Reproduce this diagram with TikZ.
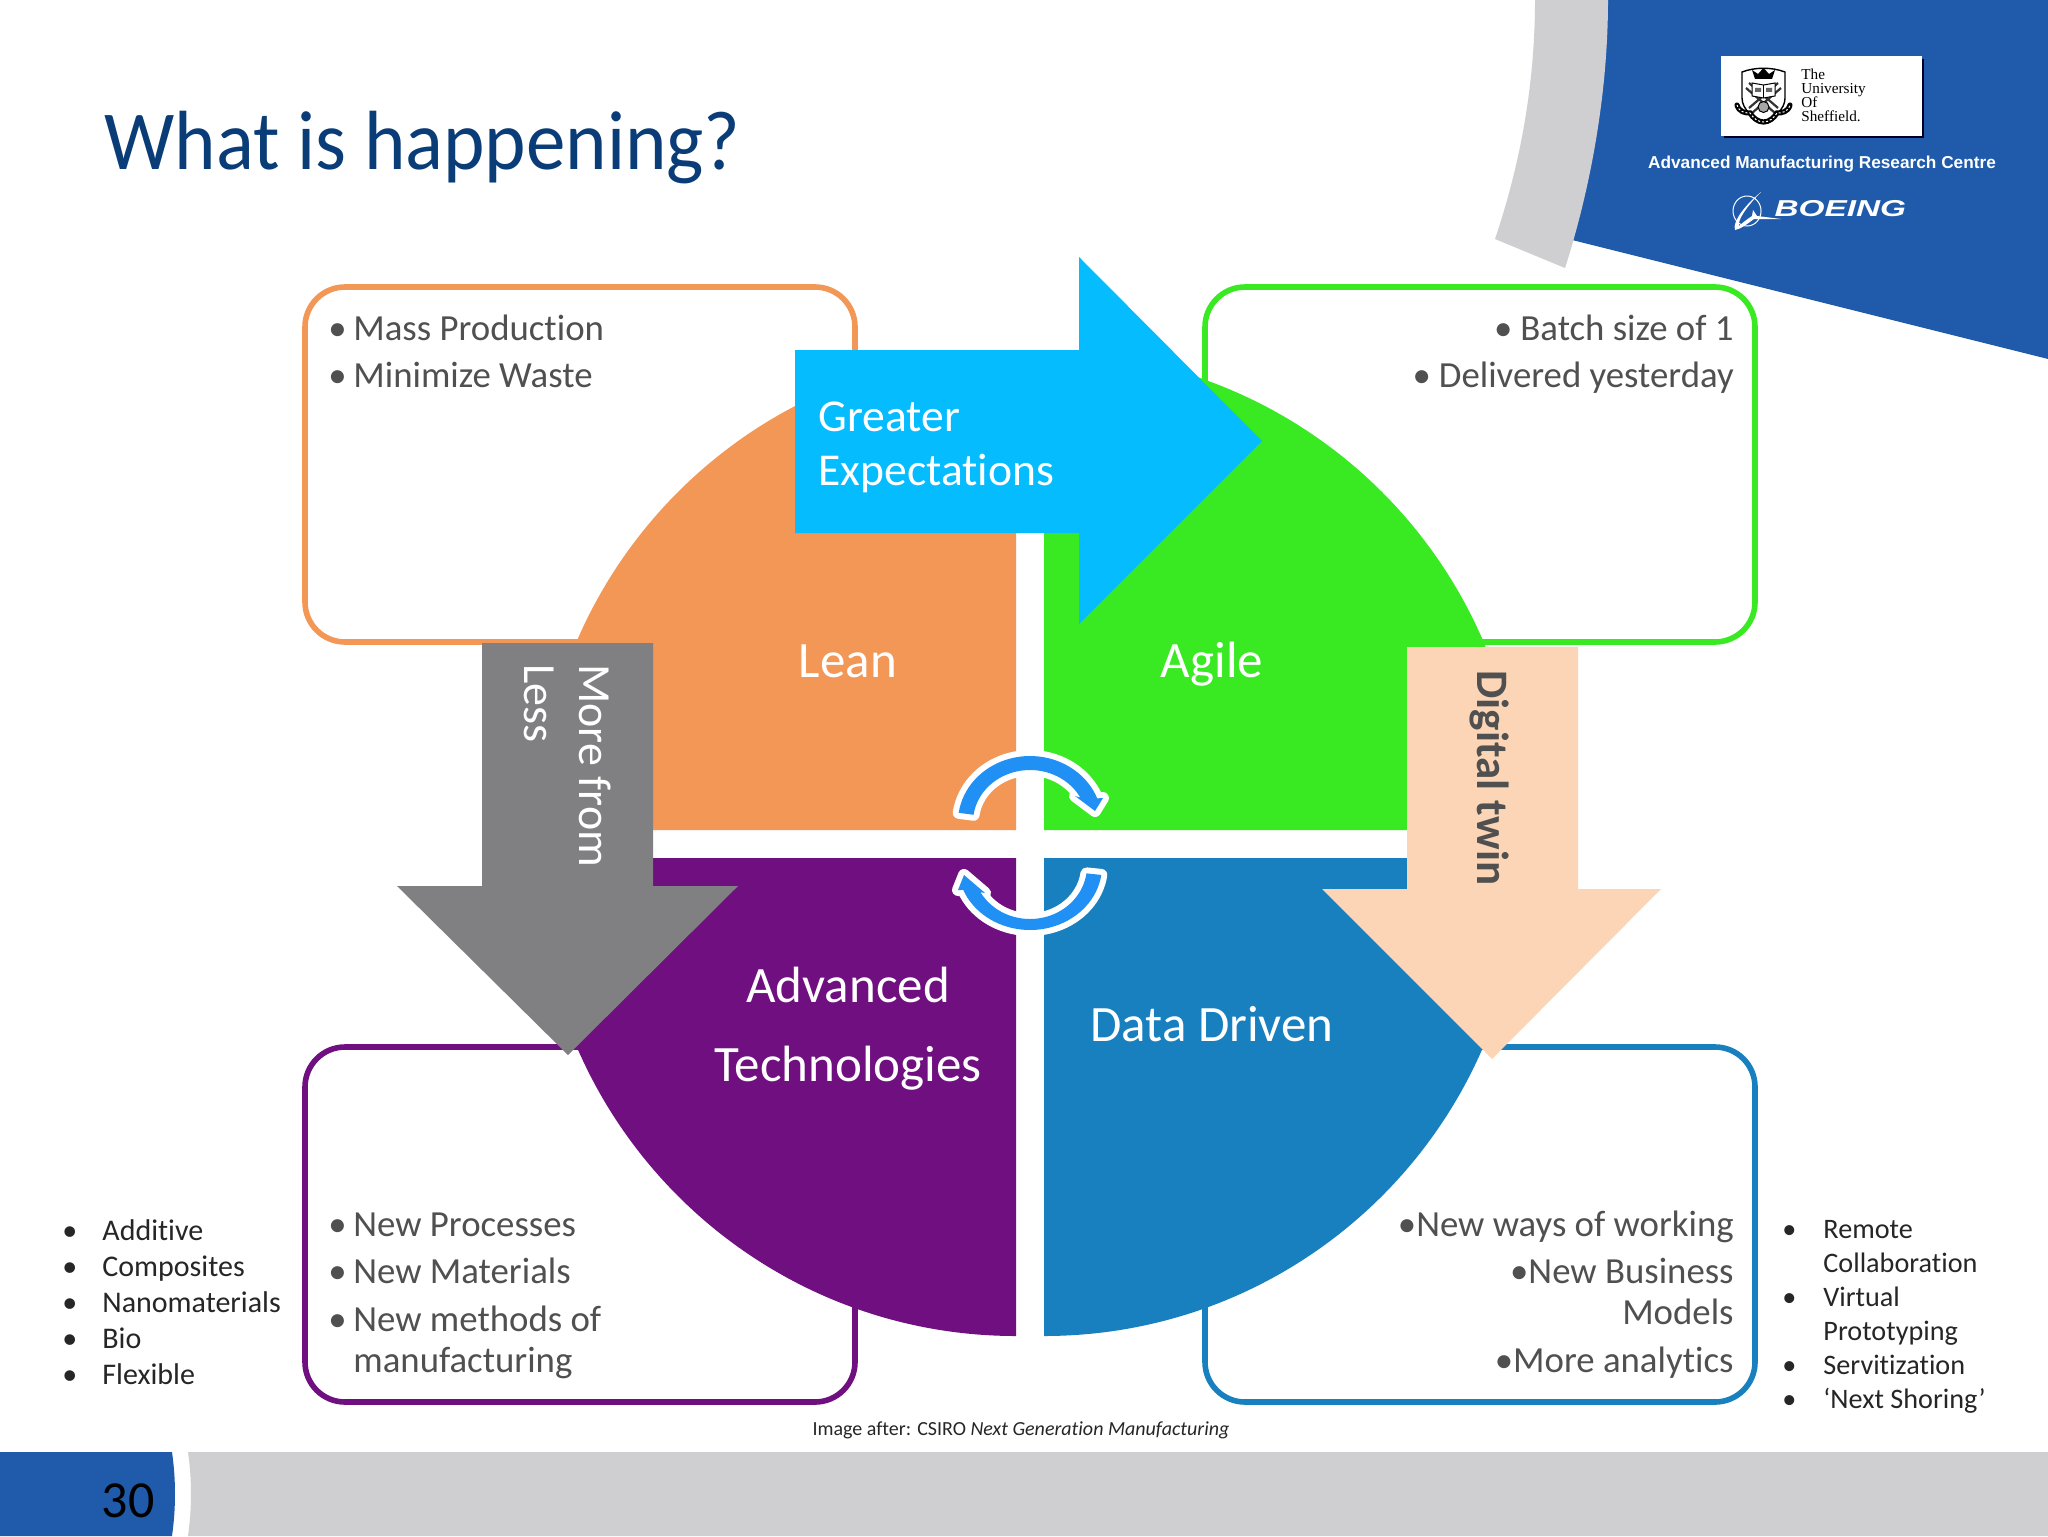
\documentclass[tikz,border=0pt]{standalone}
\usepackage{fontspec}
\setmainfont[Ligatures=NoCommon]{Carlito}
\newfontfamily\arialf{Liberation Sans}
\newfontfamily\timesf{Liberation Serif}
\definecolor{hdrblue}{HTML}{1F5AAB}
\definecolor{bandgrey}{HTML}{CFCED0}
\definecolor{titleblue}{HTML}{0A3D78}
\definecolor{leanc}{HTML}{F29755}
\definecolor{agilec}{HTML}{39EA23}
\definecolor{advc}{HTML}{6F0F80}
\definecolor{datac}{HTML}{1880BE}
\definecolor{cyanc}{HTML}{05BCFF}
\definecolor{greyc}{HTML}{807F82}
\definecolor{peachc}{HTML}{FBD5B5}
\definecolor{flowc}{HTML}{2090F5}
\definecolor{bodyc}{HTML}{505050}
\definecolor{listc}{HTML}{262626}
\tikzset{
  box/.style={line width=2.8pt,rounded corners=20pt,fill=white},
  body/.style={text=bodyc,font=\fontsize{18.4}{22}\selectfont,inner sep=0pt},
  bl/.style={body,anchor=base west},
  br/.style={body,anchor=base east},
  lbl/.style={text=white,font=\fontsize{25.5}{30}\selectfont,inner sep=0pt,anchor=base},
  rot/.style={font=\fontsize{23}{28}\selectfont,inner sep=0pt,anchor=base west,rotate=-90},
  side/.style={text=listc,font=\fontsize{15}{18}\selectfont,inner sep=0pt,anchor=base west},
  sider/.style={text=listc,font=\fontsize{14.1}{18}\selectfont,inner sep=0pt,anchor=base west},
  flow/.style={fill=flowc,preaction={draw=white,line width=6pt,line join=round}},
}
\newcommand{\bu}{\makebox[12.5pt][l]{\textbullet}}
\newcommand{\sbu}{\makebox[0pt][r]{\makebox[20pt][l]{•}}}
\begin{document}
\begin{tikzpicture}[x=0.5pt,y=-0.5pt]
\useasboundingbox (0,0) rectangle (2048,1536);
\fill[white] (0,0) rectangle (2048,1536);
% header
\fill[hdrblue] (1600,0) -- (1560,237) -- (2048,359) -- (2048,0) -- cycle;
\fill[bandgrey] (1535,0) .. controls (1535,85) and (1520,165) .. (1495,239) -- (1565,268) .. controls (1590,190) and (1608,95) .. (1608,0) -- cycle;
\node[anchor=base west,inner sep=0pt,text=titleblue,font=\fontsize{42}{50}\selectfont,xscale=.94,transform shape] (title) at (104,169) {What is happening?};
% footer
\fill[hdrblue] (0,1452) -- (172,1452) .. controls (176,1480) and (176,1508) .. (172,1536) -- (0,1536) -- cycle;
\fill[bandgrey] (188,1452) .. controls (192,1480) and (192,1508) .. (188,1536) -- (2048,1536) -- (2048,1452) -- cycle;
\node[anchor=base,inner sep=0pt,text=black,font=\fontsize{26}{30}\selectfont] (page) at (128,1517) {30};
% boxes
\draw[box,draw=leanc] (305,287) rectangle (855,642);
\draw[box,draw=agilec] (1205,287) rectangle (1755,642);
\draw[box,draw=advc] (305,1047) rectangle (855,1402);
\draw[box,draw=datac] (1205,1047) rectangle (1755,1402);
% quadrants
\fill[leanc] (1016,830) -- ++(-239pt,0pt) arc[start angle=180,end angle=90,radius=239pt] -- cycle;
\fill[agilec] (1044,830) -- ++(0pt,239pt) arc[start angle=90,end angle=0,radius=239pt] -- cycle;
\fill[advc] (1016,858) -- ++(-239pt,0pt) arc[start angle=180,end angle=270,radius=239pt] -- cycle;
\fill[datac] (1044,858) -- ++(239pt,0pt) arc[start angle=0,end angle=-90,radius=239pt] -- cycle;
% big arrows
\fill[cyanc] (795,350) -- (1079,350) -- (1079,257) -- (1262,441) -- (1079,624) -- (1079,533) -- (795,533) -- cycle;
\fill[greyc] (482,643) -- (653,643) -- (653,886) -- (738,886) -- (568,1055) -- (397,886) -- (482,886) -- cycle;
\fill[peachc] (1407,647) -- (1578,647) -- (1578,889) -- (1661,889) -- (1492,1059) -- (1322,889) -- (1407,889) -- cycle;
% cycle arrows
\path[flow] plot[domain=172:21,samples=40] ({1030+72*cos(\x)},{822-66*sin(\x)}) -- (1103,798) -- (1095,811) -- (1075,796) -- (1082,798) -- plot[domain=24:172,samples=40] ({1030+57*cos(\x)},{822-52*sin(\x)}) -- cycle;
\path[flow] plot[domain=-8:-158,samples=40] ({1030+72*cos(\x)},{866-64*sin(\x)}) -- (958,890) -- (964,875) -- (985,893) -- (979,892) -- plot[domain=-154:-8,samples=40] ({1030+57*cos(\x)},{866-53*sin(\x)}) -- cycle;
% labels
\node[lbl] (lean) at (848,677) {Lean};
\node[lbl] (agile) at (1212,677) {Agile};
\node[lbl] (adv) at (848,1002) {Advanced};
\node[lbl] (tech) at (848,1081) {Technologies};
\node[lbl] (data) at (1212,1041) {Data Driven};
\node[anchor=base west,inner sep=0pt,text=white,font=\fontsize{22.8}{28}\selectfont] (ge1) at (818,431) {Greater};
\node[anchor=base west,inner sep=0pt,text=white,font=\fontsize{22.8}{28}\selectfont] (ge2) at (818,485) {Expectations};
\node[rot,text=white] (mf) at (579,664) {More from};
\node[rot,text=white] (ls) at (524,664) {Less};
\node[rot,text=bodyc,font=\fontsize{22.5}{28}\bfseries] (dt) at (1477,670) {Digital twin};
% box text
\node[bl] (a1) at (328,340) {\bu Mass Production};
\node[bl] (a2) at (328,387) {\bu Minimize Waste};
\node[br] (b1) at (1734,340) {•\hspace{4pt}Batch size of 1};
\node[br] (b2) at (1734,387) {•\hspace{4pt}Delivered yesterday};
\node[bl] (c1) at (328,1236) {\bu New Processes};
\node[bl] (c2) at (328,1283) {\bu New Materials};
\node[bl] (c3) at (328,1331) {\bu New methods of};
\node[bl] (c4) at (353,1372) {manufacturing};
\node[br] (d1) at (1734,1236) {•New ways of working};
\node[br] (d2) at (1734,1283) {•New Business};
\node[br] (d3) at (1734,1324) {Models};
\node[br] (d4) at (1734,1372) {•More analytics};
% side lists
\foreach \t/\y/\n in {Additive/1240/s1,Composites/1276/s2,Nanomaterials/1312/s3,Bio/1348/s4,Flexible/1384/s5}
  \node[side] (\n) at (102,\y) {\sbu\t};
\foreach \t/\y/\n in {Remote/1238/r1,Collaboration/1272/r2,Virtual/1306/r3,Prototyping/1340/r4,Servitization/1374/r5,‘Next Shoring’/1408/r6}
  \node[sider] (\n) at (1823,\y) {\t};
\foreach \y/\n in {1238/q1,1306/q2,1374/q3,1408/q4}
  \node[sider] (\n) at (1782,\y) {•};
% caption
\node[anchor=base,inner sep=0pt,text=listc,font=\fontsize{10}{12}\selectfont] (cap) at (1021,1435) {Image after: CSIRO \textit{Next Generation Manufacturing}};
% Sheffield logo
\fill[black!85!blue] (1724,59) rectangle (1924,138);
\fill[white] (1721,56) rectangle (1922,136);
\draw[black,line width=.7pt,fill=white] (1742,72) .. controls (1755,67) and (1772,67) .. (1785,72) -- (1785,98) .. controls (1785,110) and (1773,118) .. (1763.5,122) .. controls (1754,118) and (1742,110) .. (1742,98) -- cycle;
\draw[black!80,line width=1.1pt] (1749,83) -- (1778,108) (1778,83) -- (1749,108) (1746,88) -- (1775,113) (1781,88) -- (1752,113);
\fill[black] (1755,79) -- (1752,70) -- (1758,74) -- (1763.5,68) -- (1769,74) -- (1775,70) -- (1772,79) -- cycle;
\draw[black,line width=.5pt,fill=white] (1752,83) -- (1763.5,85) -- (1775,83) -- (1775,96) -- (1763.5,98) -- (1752,96) -- cycle;
\draw[black,line width=.4pt] (1763.5,85) -- (1763.5,98);
\fill[black!60] (1755,88) rectangle (1761,92) (1766,88) rectangle (1772,92);
\draw[black,line width=.5pt,fill=black!35] (1763.5,107) circle (5.5);
\draw[black,line width=2.6pt,line cap=round] (1737,105) .. controls (1739,112) and (1745,113) .. (1750,113) .. controls (1753,118) and (1758,122) .. (1763.5,122) .. controls (1769,122) and (1774,118) .. (1777,113) .. controls (1782,113) and (1788,112) .. (1790,105);
\draw[white,line width=.5pt,dash pattern=on 1pt off 1pt] (1737,105) .. controls (1739,112) and (1745,113) .. (1750,113) .. controls (1753,118) and (1758,122) .. (1763.5,122) .. controls (1769,122) and (1774,118) .. (1777,113) .. controls (1782,113) and (1788,112) .. (1790,105);
\foreach \t/\y/\n in {The/80/u1,University/94/u2,Of/108/u3,Sheffield./121/u4}
  \node[anchor=base west,inner sep=0pt,text=black,font=\timesf\fontsize{7.6}{8}\selectfont] (\n) at (1801,\y) {\t};
\node[anchor=base,inner sep=0pt,text=white,font=\arialf\bfseries\fontsize{8.62}{11}\selectfont] (amrc) at (1822,168) {Advanced Manufacturing Research Centre};
% Boeing logo
\draw[white,line width=.5pt] (1747,211) ellipse (14 and 15);
\fill[white] (1761,192) .. controls (1745,205) and (1732,222) .. (1735,230) .. controls (1741,229) and (1747,224) .. (1754,219) -- (1781,219) -- (1757,216) -- (1753,210) -- (1752,216) .. controls (1746,220) and (1741,224) .. (1739,226) .. controls (1737,220) and (1748,205) .. cycle;
\node[anchor=base west,inner sep=0pt,text=white,font=\arialf\bfseries\itshape\fontsize{11.5}{13}\selectfont,xscale=1.45,transform shape] (boeing) at (1774,216) {BOEING};
\end{tikzpicture}
\end{document}
